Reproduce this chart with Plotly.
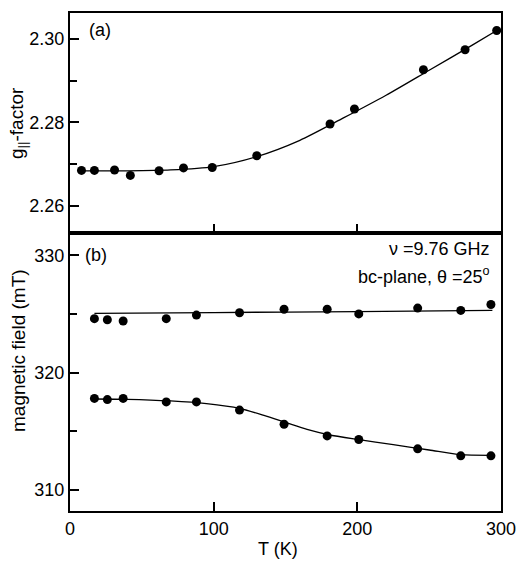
import plotly.graph_objects as go

# ---- data ----
# panel (a): g_parallel factor vs temperature
T_a = [8, 17, 31, 42, 62, 79, 99, 130, 181, 198, 246, 275, 297]
g_a = [2.2685, 2.2685, 2.2686, 2.2673, 2.2684, 2.2691, 2.2692, 2.2720,
       2.2796, 2.2832, 2.2926, 2.2974, 2.3020]
# fitted curve (a)
T_fit_a = [8, 40, 70, 100, 130, 160, 190, 220, 250, 280, 297]
g_fit_a = [2.2684, 2.2684, 2.2686, 2.2694, 2.2718, 2.2757, 2.2810,
           2.2865, 2.2925, 2.2985, 2.3020]

# panel (b): resonance fields vs temperature
T_b = [17, 26, 37, 67, 88, 118, 149, 179, 201, 242, 272, 293]
B_upper = [324.6, 324.5, 324.4, 324.6, 324.9, 325.1, 325.4, 325.4,
           325.0, 325.5, 325.3, 325.8]
B_lower = [317.8, 317.7, 317.8, 317.5, 317.5, 316.8, 315.6, 314.6,
           314.3, 313.5, 312.9, 312.9]
# fitted curves (b)
T_fit_up = [17, 100, 200, 294]
B_fit_up = [325.05, 325.12, 325.2, 325.3]
T_fit_low = [17, 40, 70, 95, 118, 135, 150, 165, 180, 200, 225, 250, 272, 294]
B_fit_low = [317.75, 317.72, 317.58, 317.35, 316.95, 316.35, 315.75,
             315.15, 314.7, 314.3, 313.85, 313.4, 313.0, 312.95]

x_ticks = [0, 100, 200, 300]
ya_ticks = [2.26, 2.28, 2.30]
ya_minor = [2.27, 2.29]
yb_ticks = [310, 320, 330]
yb_minor = [315, 325]

# ---- figure ----
W, H = 516, 561
ML, MR, MT, MB = 70, 15, 13, 50
PW, PH = W - ML - MR, H - MT - MB
split = (511 - 233) / PH

def px(x):
    return (x - ML) / PW

def py(y):
    return (H - MB - y) / PH

FONT = "Liberation Sans, Arial, Helvetica, sans-serif"
mk = dict(color="black", size=9)
ln = dict(color="black", width=1.3, shape="spline", smoothing=0.7)

fig = go.Figure()
fig.add_trace(go.Scatter(x=T_fit_a, y=g_fit_a, mode="lines", line=ln,
                         xaxis="x2", yaxis="y2", hoverinfo="skip"))
fig.add_trace(go.Scatter(x=T_a, y=g_a, mode="markers", marker=mk,
                         xaxis="x2", yaxis="y2"))
fig.add_trace(go.Scatter(x=T_fit_up, y=B_fit_up, mode="lines", line=ln,
                         xaxis="x", yaxis="y", hoverinfo="skip"))
fig.add_trace(go.Scatter(x=T_fit_low, y=B_fit_low, mode="lines", line=ln,
                         xaxis="x", yaxis="y", hoverinfo="skip"))
fig.add_trace(go.Scatter(x=T_b, y=B_upper, mode="markers", marker=mk,
                         xaxis="x", yaxis="y"))
fig.add_trace(go.Scatter(x=T_b, y=B_lower, mode="markers", marker=mk,
                         xaxis="x", yaxis="y"))

axis_common = dict(showgrid=False, zeroline=False, showline=True, mirror=True,
                   linecolor="black", linewidth=2, ticks="inside", ticklen=9,
                   tickwidth=2, tickcolor="black", ticklabeloverflow="allow",
                   automargin=False,
                   tickfont=dict(size=18, color="black", family=FONT))

fig.update_layout(
    width=W, height=H,
    margin=dict(l=ML, r=MR, t=MT, b=MB, autoexpand=False),
    paper_bgcolor="white", plot_bgcolor="white",
    showlegend=False,
    font=dict(family=FONT, size=18, color="black"),
    xaxis=dict(axis_common, domain=[0, 1], anchor="y", range=[0, 300],
               tickvals=x_ticks),
    yaxis=dict(axis_common, domain=[0, split], anchor="x",
               range=[308.2, 331.9], tickvals=yb_ticks,
               minor=dict(tickvals=yb_minor, ticks="inside", ticklen=7,
                          tickcolor="black", tickwidth=1.5)),
    xaxis2=dict(axis_common, domain=[0, 1], anchor="y2", range=[0, 300],
                tickvals=[100, 200], showticklabels=False),
    yaxis2=dict(axis_common, domain=[split, 1], anchor="x2",
                range=[2.2535, 2.3062], tickvals=ya_ticks, tickformat=".2f",
                minor=dict(tickvals=ya_minor, ticks="inside", ticklen=7,
                           tickcolor="black", tickwidth=1.5)),
    annotations=[
        dict(text="(a)", x=px(87), y=py(30), xref="paper", yref="paper",
             xanchor="left", yanchor="middle", showarrow=False),
        dict(text="(b)", x=px(83), y=py(255), xref="paper", yref="paper",
             xanchor="left", yanchor="middle", showarrow=False),
        dict(text="ν =9.76 GHz", x=px(492), y=py(249), xref="paper",
             yref="paper", xanchor="right", yanchor="middle", showarrow=False),
        dict(text="bc-plane, θ =25<sup>o</sup>", x=px(492), y=py(275),
             xref="paper", yref="paper", xanchor="right", yanchor="middle",
             showarrow=False),
        dict(text="g<sub>||</sub>-factor", x=px(18), y=py(123),
             xref="paper", yref="paper", textangle=-90, xanchor="center",
             yanchor="middle", showarrow=False, font=dict(size=19)),
        dict(text="magnetic field (mT)", x=px(18), y=py(351),
             xref="paper", yref="paper", textangle=-90, xanchor="center",
             yanchor="middle", showarrow=False, font=dict(size=19)),
        dict(text="T (K)", x=px(278), y=py(549), xref="paper", yref="paper",
             xanchor="center", yanchor="middle", showarrow=False,
             font=dict(size=18)),
    ],
)

fig.write_html("out.html")
